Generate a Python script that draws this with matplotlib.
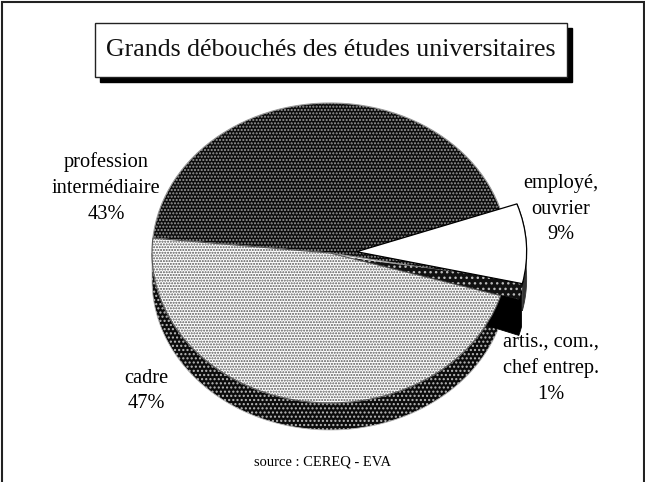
import matplotlib
matplotlib.use('Agg')
import matplotlib.pyplot as plt
from matplotlib.patches import Wedge, Polygon, Rectangle
import numpy as np

plt.rcParams['font.family'] = ['Liberation Serif', 'DejaVu Serif']
plt.rcParams['hatch.linewidth'] = 1.0

# data
labels = ['profession\nintermédiaire\n43%', 'employé,\nouvrier\n9%',
          'artis., com.,\nchef entrep.\n1%', 'cadre\n47%']
values = [43, 9, 1, 47]
title = 'Grands débouchés des études universitaires'
source = 'source : CEREQ - EVA'

W, H = 645, 482
cx, cy, rx, ry = 330, 253, 178, 150
depth = [0, 27 / ry, 36 / ry, 27 / ry]
start = 174.3
explode = [0, 0.15, 0.15, 0]
radius = [1, 0.955, 0.955, 1]
top_style = [dict(facecolor='#0c0c0c', edgecolor='#9a9a9a', hatch='.....', lw=0.8),
             dict(facecolor='white', edgecolor='black', lw=0.9),
             dict(facecolor='#111111', edgecolor='#bbbbbb', hatch='...', lw=0),
             dict(facecolor='white', edgecolor='#555555', hatch='......', lw=0.8)]
side_style = [None,
              dict(facecolor='#333333', edgecolor='#333333'),
              dict(facecolor='black', edgecolor='black'),
              dict(facecolor='#0c0c0c', edgecolor='#bbbbbb', hatch='....')]

fig = plt.figure(figsize=(W / 100, H / 100), dpi=100)
bg = fig.add_axes([0, 0, 1, 1])
bg.set_xlim(0, W)
bg.set_ylim(H, 0)
bg.axis('off')

# frame and title box
bg.add_patch(Rectangle((1.5, 2), W - 3, H, fc='white', ec='#222222', lw=1.5))
bg.add_patch(Rectangle((100, 28), 472, 54, fc='black', ec='black'))
bg.add_patch(Rectangle((95, 23), 472, 54, fc='white', ec='#222222', lw=1))
bg.text(331, 50, title, fontsize=18.6, ha='center', va='center', color='#111111')

# pie, unit circle stretched to the ellipse
ax = fig.add_axes([(cx - rx) / W, 1 - (cy + ry) / H, 2 * rx / W, 2 * ry / H])
ax.set_xlim(-1, 1)
ax.set_ylim(-1, 1)
ax.axis('off')
ax.patch.set_alpha(0)

th1 = start
angles = []
for v in values:
    th2 = th1 - v * 3.6
    angles.append((th2, th1))
    th1 = th2

# sides first
for i in [3, 1, 2]:
    if side_style[i] is None:
        continue
    a, b = angles[i]
    mid = np.radians((a + b) / 2)
    dx = explode[i] * np.cos(mid)
    dy = explode[i] * np.sin(mid)
    t = np.radians(np.linspace(a, b, 120))
    px = dx + radius[i] * np.cos(t)
    py = dy + radius[i] * np.sin(t)
    keep = np.sin(t) < 0.02 if i == 3 else np.ones_like(t, bool)
    px, py = px[keep], py[keep]
    pts = np.r_[np.c_[px, py], np.c_[px, py - depth[i]][::-1]]
    if i == 2:
        # the cut face of the thin slice shows as well
        pts = np.r_[np.c_[px, py], np.c_[px, py - depth[i]][::-1],
                    [[dx - 0.2, dy - 0.1]], [[dx, dy]]]
    ax.add_patch(Polygon(pts, closed=True, lw=0.6, clip_on=False, **side_style[i]))

for i in [0, 3, 2, 1]:
    a, b = angles[i]
    mid = np.radians((a + b) / 2)
    center = (explode[i] * np.cos(mid), explode[i] * np.sin(mid))
    if i == 0:
        # dark slice runs on under the white one, no gap shows between them
        a -= 30
    if i == 2:
        # same for the thin slice, its top edge stays hidden by the white one
        b += 4
    ax.add_patch(Wedge(center, radius[i], a, b, clip_on=False, **top_style[i]))

# labels
font = 14.7
spacing = 1.47
bg.text(106, 188, labels[0], fontsize=font, ha='center', va='center', linespacing=spacing)
bg.text(561, 209, labels[1], fontsize=font, ha='center', va='center', linespacing=spacing)
bg.text(551, 368, labels[2], fontsize=font, ha='center', va='center', linespacing=spacing)
bg.text(146, 391, labels[3], fontsize=font, ha='center', va='center', linespacing=spacing)
bg.text(323, 462, source, fontsize=10.5, ha='center', va='center')

fig.savefig('out.png', dpi=100)
